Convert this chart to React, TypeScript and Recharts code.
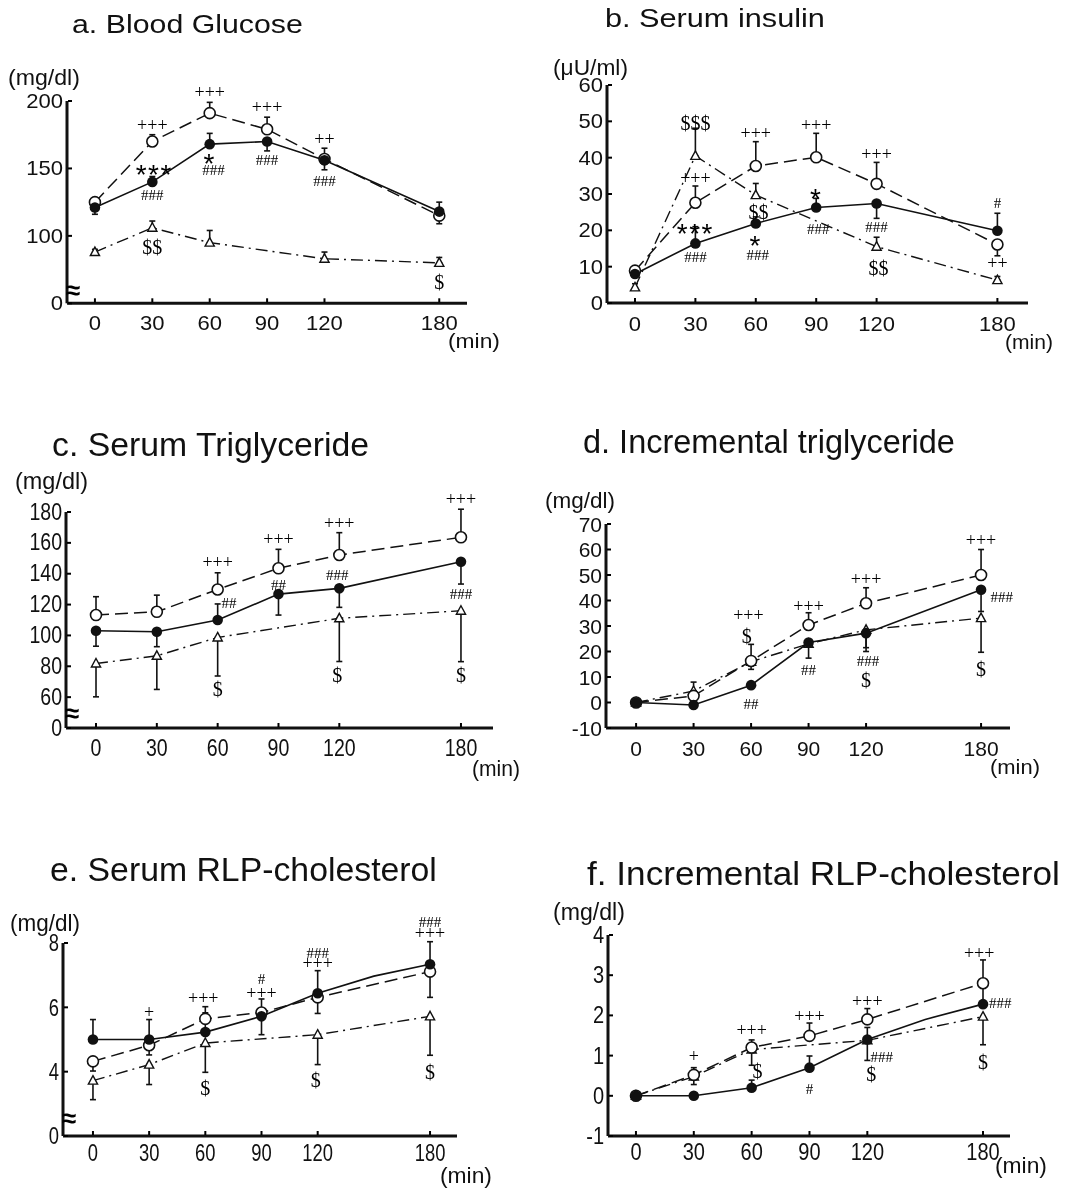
import React from 'react';
import { ComposedChart, Line, XAxis, YAxis, ErrorBar, ReferenceDot } from 'recharts';

const SANS = '"Liberation Sans", Arial, Helvetica, sans-serif';
const SERIF = '"Liberation Serif", "Times New Roman", serif';

// sampling times (min)
const minutes = [0, 30, 60, 90, 120, 180];
const minutesWith150 = [0, 30, 60, 90, 120, 150, 180];
const timeTicks = [0, 30, 60, 90, 120, 180];

// a. Blood glucose (mg/dl)   f = filled circle, o = open circle, tri = triangle
const glucoseF = [121, 140, 168, 170, 156, 118];
const glucoseO = [125, 170, 191, 179, 157, 115];
const glucoseTri = [88, 106, 95, null, 83, 80];
const glucoseFErr = [[5, 0], [0, 4], [0, 8], [7, 0], [7, 0], [0, 7]];
const glucoseOErr = [[0, 2], [0, 5], [0, 8], [0, 9], [0, 8], [6, 0]];
const glucoseTriErr = [[0, 2], [0, 5], [0, 9], null, [0, 5], [0, 4]];
const glucoseTicks = [50, 100, 150, 200];
const glucoseAnn = [
  [30, 181, '+++'], [60, 205.5, '+++'], [90, 194.4, '+++'], [120, 171, '++'],
  [31, 150.6, '***'], [30, 130, '###'], [60, 158.5, '*'], [62, 148.5, '###'],
  [90, 156, '###'], [120, 141, '###'], [30, 92, '$$'], [180, 66, '$'],
];

// b. Serum insulin (uU/ml)
const insulinF = [8, 16.4, 21.9, 26.3, 27.4, 19.9];
const insulinO = [8.9, 27.6, 37.7, 40.1, 32.8, 16.1];
const insulinTri = [4.3, 40.5, 29.7, null, 15.5, 6.3];
const insulinFErr = [[0, 1], [0, 4.6], [0, 1.8], [0, 2.5], [4.1, 0], [0, 4.8]];
const insulinOErr = [[0, 1], [0, 4.6], [0, 6.7], [0, 6.6], [0, 5.9], [3.1, 0]];
const insulinTriErr = [[0, 1], [0, 7.6], [0, 3.2], null, [0, 2.6], [0, 1]];
const insulinTicks = [0, 10, 20, 30, 40, 50, 60];
const insulinAnn = [
  [30, 49.5, '$$$'], [30, 34, '+++'], [30, 21, '***'], [30, 12.6, '###'],
  [60, 46.5, '+++'], [61.3, 25.1, '$$'], [60, 17.5, '*'], [61, 13.3, '###'],
  [90, 48.5, '+++'], [90, 30.6, '*'], [91, 20.4, '###'],
  [120, 40.5, '+++'], [120, 21, '###'], [121, 9.6, '$$'],
  [180, 27.4, '#'], [180, 10.5, '++'],
];

// c. Serum triglyceride (mg/dl)
const tgF = [103, 102.4, 110, 126.8, 130.5, 147.8];
const tgO = [113.2, 115.3, 129.8, 143.5, 152.1, 163.6];
const tgTri = [81.8, 86.8, 98.7, null, 111.1, 116];
const tgFErr = [[10, 0], [9.7, 0], [0, 10.4], [13.6, 0], [12.3, 0], [14.5, 0]];
const tgOErr = [[0, 11.9], [0, 10.8], [0, 10.8], [0, 12.3], [0, 14.5], [0, 18.2]];
const tgTriErr = [[21.6, 0], [21.8, 0], [25, 0], null, [28, 0], [33, 0]];
const tgTicks = [40, 60, 80, 100, 120, 140, 160, 180];
const tgAnn = [
  [60, 146.7, '+++'], [65.6, 120.8, '##'], [60, 65, '$'],
  [90, 161.8, '+++'], [90, 132.6, '##'],
  [120, 172.2, '+++'], [119, 139.1, '###'], [119, 74.3, '$'],
  [180, 187.3, '+++'], [180, 126.6, '###'], [180, 74.3, '$'],
];

// d. Incremental triglyceride (mg/dl)
const incTgF = [0, -1, 6.8, 23.5, 27.2, 44.2];
const incTgO = [0, 2.6, 16.3, 30.4, 38.9, 50];
const incTgTri = [0, 4.5, 16, 23, 28.5, 33.1];
const incTgFErr = [null, null, [0, 1], [6.1, 0], [7.2, 0], [8.5, 0]];
const incTgOErr = [null, [0, 1], [0, 6.5], [0, 4.8], [0, 6.1], [0, 10]];
const incTgTriErr = [null, [0, 3.5], [3, 0], null, [7, 0], [13.4, 0]];
const incTgTicks = [-10, 0, 10, 20, 30, 40, 50, 60, 70];
const incTgAnn = [
  [58.6, 33.7, '+++'], [57.7, 26, '$'], [60, -0.5, '##'],
  [90, 37.4, '+++'], [90, 12.8, '##'],
  [120, 48, '+++'], [121, 16.2, '###'], [120, 9, '$'],
  [180, 63.1, '+++'], [190.8, 41.5, '###'], [180, 13.1, '$'],
];

// e. Serum RLP-cholesterol (mg/dl) -- 150 min has no marker
const rlpF = [5, 5, 5.23, 5.72, 6.44, 6.97, 7.34];
const rlpO = [4.32, 4.82, 5.64, 5.84, 6.31, null, 7.11];
const rlpTri = [3.72, 4.22, 4.89, null, 5.15, null, 5.72];
const rlpFErr = [[0, 0.62], [0, 0.62], [0, 0.6], [0.57, 0], [0, 0.7], null, [0, 0.7]];
const rlpOErr = [[0.3, 0], [0.3, 0], [0, 0.38], [0, 0.42], [0.5, 0], null, [0.8, 0]];
const rlpTriErr = [[0.59, 0], [0.62, 0], [0.91, 0], null, [0.93, 0], null, [1.21, 0]];
const rlpTicks = [2, 4, 6, 8];
const rlpAnn = [
  [30, 5.8, '+'], [58.9, 6.25, '+++'], [60, 3.5, '$'],
  [90, 6.87, '#'], [90, 6.41, '+++'],
  [120, 7.68, '###'], [120, 7.32, '+++'], [119, 3.75, '$'],
  [180, 8.64, '###'], [180, 8.27, '+++'], [180, 3.98, '$'],
];

// f. Incremental RLP-cholesterol (mg/dl)
const incRlpF = [0, 0, 0.2, 0.7, 1.4, 1.9, 2.28];
const incRlpO = [0, 0.52, 1.2, 1.49, 1.9, null, 2.8];
const incRlpTri = [0, 0.48, 1.15, null, 1.38, null, 1.97];
const incRlpFErr = [null, null, [0, 0.19], [0, 0.29], [0, 0.3], null, [0, 0.51]];
const incRlpOErr = [null, [0, 0.18], [0, 0.19], [0, 0.32], [0, 0.27], null, [0, 0.58]];
const incRlpTriErr = [null, [0.2, 0], [0.39, 0], null, [0.5, 0], null, [0.7, 0]];
const incRlpTicks = [-1, 0, 1, 2, 3, 4];
const incRlpAnn = [
  [30, 0.96, '+'], [60, 1.6, '+++'], [63, 0.62, '$'],
  [90, 0.16, '#'], [90, 1.94, '+++'],
  [120, 2.32, '+++'], [127.5, 0.97, '###'], [122, 0.54, '$'],
  [178, 3.52, '+++'], [189, 2.32, '###'], [180, 0.85, '$'],
];

const buildRows = (times, f, o, tri, fe, oe, te) =>
  times.map((t, i) => ({
    t,
    f: f[i],
    o: o[i],
    tri: tri[i],
    fe: fe[i] || undefined,
    oe: oe[i] || undefined,
    te: te[i] || undefined,
  }));

const panels = [
  {
    id: 'a', rows: buildRows(minutes, glucoseF, glucoseO, glucoseTri, glucoseFErr, glucoseOErr, glucoseTriErr),
    ann: glucoseAnn, yTicks: glucoseTicks, xDom: [-14.6, 194.5], yDom: [50, 200], brk: 59.8,
    rect: [67, 100.7, 467, 303], fs: 21, sx: 1.05, xDy: 20,
  },
  {
    id: 'b', rows: buildRows(minutes, insulinF, insulinO, insulinTri, insulinFErr, insulinOErr, insulinTriErr),
    ann: insulinAnn, yTicks: insulinTicks, xDom: [-13.9, 195.2], yDom: [0, 60], brk: null,
    rect: [607, 85, 1028, 303], fs: 20, sx: 1.1, xDy: 21,
  },
  {
    id: 'c', rows: buildRows(minutes, tgF, tgO, tgTri, tgFErr, tgOErr, tgTriErr),
    ann: tgAnn, yTicks: tgTicks, xDom: [-14.8, 195.8], yDom: [40, 180], brk: 49.4,
    rect: [66, 512, 493, 728], fs: 23, sx: 0.85, xDy: 20,
  },
  {
    id: 'd', rows: buildRows(minutes, incTgF, incTgO, incTgTri, incTgFErr, incTgOErr, incTgTriErr),
    ann: incTgAnn, yTicks: incTgTicks, xDom: [-15.7, 195.1], yDom: [-10, 70], brk: null,
    rect: [606, 524, 1010, 728], fs: 21, sx: 1.0, xDy: 20,
  },
  {
    id: 'e', rows: buildRows(minutesWith150, rlpF, rlpO, rlpTri, rlpFErr, rlpOErr, rlpTriErr),
    ann: rlpAnn, yTicks: rlpTicks, xDom: [-16, 194.4], yDom: [2, 8], brk: 2.57,
    rect: [63, 943, 457, 1136], fs: 23, sx: 0.8, xDy: 17,
  },
  {
    id: 'f', rows: buildRows(minutesWith150, incRlpF, incRlpO, incRlpTri, incRlpFErr, incRlpOErr, incRlpTriErr),
    ann: incRlpAnn, yTicks: incRlpTicks, xDom: [-14.5, 194], yDom: [-1, 4], brk: null,
    rect: [608, 935, 1010, 1136], fs: 23, sx: 0.87, xDy: 16,
  },
];

const titles = [
  { s: 'a. Blood Glucose', x: 72, y: 33, w: 231, fs: 25 },
  { s: 'b. Serum insulin', x: 605, y: 27, w: 220, fs: 25 },
  { s: 'c. Serum Triglyceride', x: 52, y: 456, w: 318, fs: 33 },
  { s: 'd. Incremental triglyceride', x: 583, y: 453, w: 372, fs: 33 },
  { s: 'e. Serum RLP-cholesterol', x: 50, y: 881, w: 387, fs: 33 },
  { s: 'f. Incremental RLP-cholesterol', x: 587, y: 885, w: 473, fs: 33 },
];

const units = [
  { s: '(mg/dl)', x: 8, y: 85, w: 72, fs: 22 },
  { s: '(\u03bcU/ml)', x: 553, y: 75, w: 75, fs: 22 },
  { s: '(mg/dl)', x: 15, y: 489, w: 73, fs: 24 },
  { s: '(mg/dl)', x: 545, y: 508, w: 70, fs: 22 },
  { s: '(mg/dl)', x: 10, y: 931, w: 70, fs: 24 },
  { s: '(mg/dl)', x: 553, y: 920, w: 72, fs: 24 },
];

const minLabels = [
  { x: 448, y: 348, w: 52, fs: 21 },
  { x: 1005, y: 349, w: 48, fs: 21 },
  { x: 472, y: 776, w: 48, fs: 22 },
  { x: 990, y: 774, w: 50, fs: 21 },
  { x: 440, y: 1183, w: 52, fs: 22 },
  { x: 995, y: 1173, w: 52, fs: 22 },
];

const PAD_L = 60;
const PAD_T = 40;
const PAD_R = 20;
const PAD_B = 40;

let measureCtx: CanvasRenderingContext2D | null = null;
const textWidth = (s: string, fs: number) => {
  if (!measureCtx) measureCtx = document.createElement('canvas').getContext('2d');
  if (!measureCtx) return s.length * fs * 0.55;
  measureCtx.font = `${fs}px "Liberation Sans", Arial, sans-serif`;
  return measureCtx.measureText(s).width;
};

// text stretched/condensed horizontally to a measured width
const FitText = ({ s, x, y, w, fs }: { s: string; x: number; y: number; w: number; fs: number }) => {
  const sx = w / textWidth(s, fs);
  return (
    <text
      transform={`translate(${x},${y}) scale(${sx},1)`}
      fontSize={fs}
      fontFamily={SANS}
      fill="#111"
    >
      {s}
    </text>
  );
};

const XTick = (props: any) => {
  const { x, y, payload, fs, sx, dy } = props;
  return (
    <g transform={`translate(${x},${y})`}>
      <line x1={0} y1={-1} x2={0} y2={-5} stroke="#000" strokeWidth={2} />
      <text
        transform={`scale(${sx},1)`}
        y={dy}
        textAnchor="middle"
        dominantBaseline="central"
        fontSize={fs}
        fontFamily={SANS}
        fill="#111"
      >
        {payload.value}
      </text>
    </g>
  );
};

const YTick = (props: any) => {
  const { x, y, payload, fs, sx, zeroAt } = props;
  const label = zeroAt != null && payload.value === zeroAt ? '0' : String(payload.value);
  return (
    <g transform={`translate(${x},${y})`}>
      <line x1={1} y1={0} x2={5} y2={0} stroke="#000" strokeWidth={2} />
      <text
        transform={`scale(${sx},1)`}
        x={-4 / sx}
        textAnchor="end"
        dominantBaseline="central"
        fontSize={fs}
        fontFamily={SANS}
        fill="#111"
      >
        {label}
      </text>
    </g>
  );
};

const Ann = (props: any) => {
  const vb = props.viewBox;
  if (!vb) return null;
  const cx = vb.x + (vb.width || 0) / 2;
  const cy = vb.y + (vb.height || 0) / 2;
  const s: string = props.ann;
  let fs = 18;
  let family = SERIF;
  let dy = 0;
  let dx = 0;
  let spacing = 0;
  let weight = 400;
  if (s.includes('*')) {
    fs = 28; family = SANS; dy = 6.5; spacing = 1.5;
  } else if (s.includes('+')) {
    fs = 18; dy = -1.5;
  } else if (s.includes('#')) {
    fs = 15;
  } else if (s.includes('$')) {
    fs = 20;
  } else if (s === '\u2248') {
    fs = 26; family = SANS; dx = 6; weight = 700;
  }
  return (
    <text
      x={cx + dx}
      y={cy + dy}
      textAnchor="middle"
      dominantBaseline="central"
      fontSize={fs}
      fontFamily={family}
      fontWeight={weight}
      letterSpacing={spacing}
      fill="#000"
    >
      {s}
    </text>
  );
};

const hidden = (key: string) => <g key={key} />;

const filledDot = (p: any) => {
  const key = `f-${p.index}`;
  if (p.cx == null || p.cy == null || p.payload.t === 150) return hidden(key);
  return <circle key={key} cx={p.cx} cy={p.cy} r={5.3} fill="#111" />;
};

const openDot = (p: any) => {
  const key = `o-${p.index}`;
  if (p.cx == null || p.cy == null || p.payload.o == null) return hidden(key);
  return <circle key={key} cx={p.cx} cy={p.cy} r={5.5} fill="#fff" stroke="#111" strokeWidth={1.6} />;
};

const triDot = (p: any) => {
  const key = `t-${p.index}`;
  if (p.cx == null || p.cy == null || p.payload.tri == null) return hidden(key);
  const { cx, cy } = p;
  return (
    <path
      key={key}
      d={`M${cx},${cy - 5} L${cx + 4.6},${cy + 3.5} L${cx - 4.6},${cy + 3.5} Z`}
      fill="#fff"
      stroke="#111"
      strokeWidth={1.4}
    />
  );
};

function Panel({ cfg }: { cfg: any }) {
  const [x0, y0, x1, y1] = cfg.rect;
  const width = x1 - x0 + PAD_L + PAD_R;
  const height = y1 - y0 + PAD_T + PAD_B;
  const zeroAt = cfg.brk != null ? cfg.yDom[0] : null;
  return (
    <div style={{ position: 'absolute', left: x0 - PAD_L, top: y0 - PAD_T }}>
      <ComposedChart
        width={width}
        height={height}
        data={cfg.rows}
        margin={{ top: PAD_T, right: PAD_R, bottom: 0, left: 0 }}
        style={{ overflow: 'visible' }}
      >
        <XAxis
          type="number"
          dataKey="t"
          domain={cfg.xDom}
          allowDataOverflow
          ticks={timeTicks}
          interval={0}
          height={PAD_B}
          tickSize={0}
          tickMargin={0}
          tickLine={false}
          axisLine={{ stroke: '#111', strokeWidth: 3 }}
          tick={<XTick fs={cfg.fs} sx={cfg.sx} dy={cfg.xDy} />}
        />
        <YAxis
          type="number"
          domain={cfg.yDom}
          allowDataOverflow
          ticks={cfg.yTicks}
          interval={0}
          width={PAD_L}
          tickSize={0}
          tickMargin={0}
          tickLine={false}
          axisLine={{ stroke: '#111', strokeWidth: 3 }}
          tick={<YTick fs={cfg.fs} sx={cfg.sx} zeroAt={zeroAt} />}
        />
        <Line
          dataKey="tri"
          stroke="#111"
          strokeWidth={1.4}
          strokeDasharray="12 5 2 5"
          connectNulls
          dot={triDot}
          activeDot={false}
          isAnimationActive={false}
        >
          <ErrorBar dataKey="te" direction="y" width={3} stroke="#111" strokeWidth={1.6} />
        </Line>
        <Line
          dataKey="o"
          stroke="#111"
          strokeWidth={1.5}
          strokeDasharray="13 6"
          connectNulls
          dot={openDot}
          activeDot={false}
          isAnimationActive={false}
        >
          <ErrorBar dataKey="oe" direction="y" width={3} stroke="#111" strokeWidth={1.6} />
        </Line>
        <Line
          dataKey="f"
          stroke="#111"
          strokeWidth={1.6}
          connectNulls
          dot={filledDot}
          activeDot={false}
          isAnimationActive={false}
        >
          <ErrorBar dataKey="fe" direction="y" width={3} stroke="#111" strokeWidth={1.6} />
        </Line>
        {cfg.ann.map(([t, v, s]: [number, number, string], i: number) => (
          <ReferenceDot
            key={`ann-${i}`}
            x={t}
            y={v}
            r={1}
            fill="none"
            stroke="none"
            ifOverflow="visible"
            label={<Ann ann={s} />}
          />
        ))}
        {cfg.brk != null && (
          <ReferenceDot
            x={cfg.xDom[0]}
            y={cfg.brk}
            r={1}
            fill="none"
            stroke="none"
            ifOverflow="visible"
            label={<Ann ann={'\u2248'} />}
          />
        )}
      </ComposedChart>
    </div>
  );
}

export default function App() {
  return (
    <div
      style={{
        position: 'absolute',
        left: 0,
        top: 0,
        width: 1081,
        height: 1189,
        background: '#fff',
        overflow: 'hidden',
        filter: 'grayscale(1)',
      }}
    >
      {panels.map((p) => (
        <Panel key={p.id} cfg={p} />
      ))}
      <svg
        width={1081}
        height={1189}
        style={{ position: 'absolute', left: 0, top: 0, pointerEvents: 'none' }}
      >
        {titles.map((t) => (
          <FitText key={t.s} s={t.s} x={t.x} y={t.y} w={t.w} fs={t.fs} />
        ))}
        {units.map((u, i) => (
          <FitText key={`u-${i}`} s={u.s} x={u.x} y={u.y} w={u.w} fs={u.fs} />
        ))}
        {minLabels.map((m, i) => (
          <FitText key={`m-${i}`} s="(min)" x={m.x} y={m.y} w={m.w} fs={m.fs} />
        ))}
      </svg>
    </div>
  );
}
